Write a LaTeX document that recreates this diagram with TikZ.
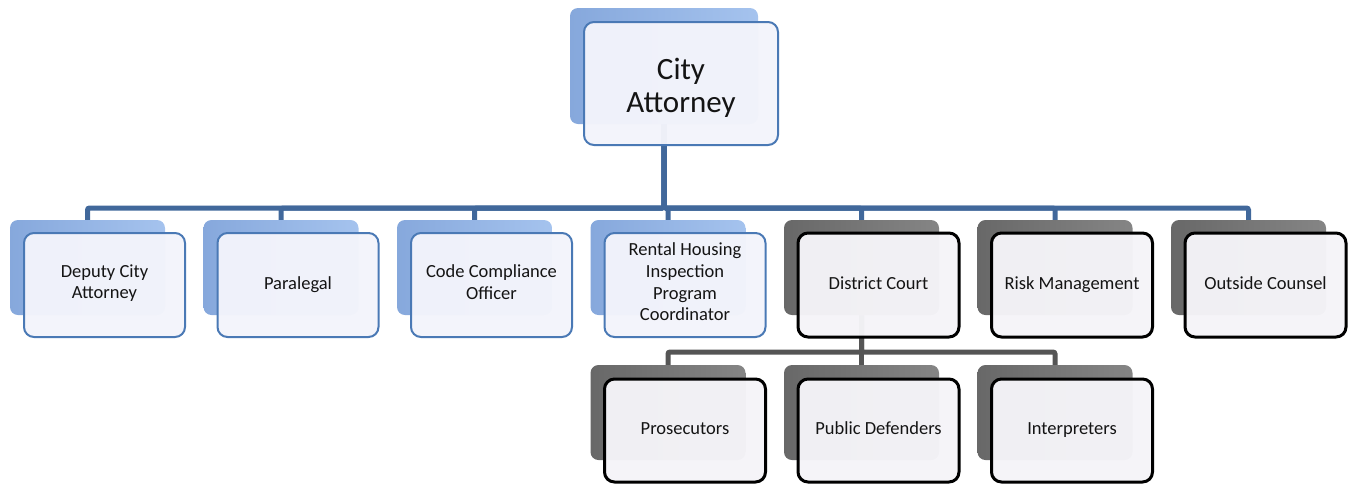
\documentclass[tikz,border=0pt]{standalone}
\usepackage{fontspec}
\setmainfont{Carlito}
\usetikzlibrary{backgrounds}
\definecolor{conblue}{HTML}{41689B}
\definecolor{congray}{HTML}{555555}
\definecolor{bblueL}{HTML}{86A8DC}
\definecolor{bblueR}{HTML}{A5C3EE}
\definecolor{bgrayL}{HTML}{686868}
\definecolor{bgrayR}{HTML}{858585}
\definecolor{bordblue}{HTML}{4A79B5}
\definecolor{frontfill}{HTML}{F3F4FB}
\definecolor{frontgray}{HTML}{F5F4F8}
\definecolor{txt}{HTML}{141414}
\tikzset{
  backbox/.style={rectangle, rounded corners=8pt, inner sep=0pt, minimum width=155pt, minimum height=95pt},
  backblue/.style={backbox, left color=bblueL, right color=bblueR},
  backgray/.style={backbox, left color=bgrayL, right color=bgrayR},
  frontbox/.style={rectangle, rounded corners=10pt, inner sep=2pt, minimum width=161pt, minimum height=104pt,
    fill opacity=0.97, text opacity=1, align=center, text=txt},
  strutted/.style={execute at begin node=\strut, execute at end node=\strut},
  smalltext/.style={font=\fontsize{18.5}{21.7}\selectfont, strutted},
  frontblue/.style={frontbox, draw=bordblue, line width=2pt, fill=frontfill},
  frontblack/.style={frontbox, draw=black, line width=3pt, fill=frontgray},
  bluecon/.style={draw=conblue, line width=5pt, rounded corners=2pt},
  graycon/.style={draw=congray, line width=5pt, rounded corners=2pt}
}
\begin{document}
\begin{tikzpicture}[x=1pt,y=-1pt]
\useasboundingbox (0,0) rectangle (1351,483);
\coordinate (busY) at (0,208);
\coordinate (subY) at (0,352);
% top
\node[backblue, minimum width=188pt, minimum height=116pt] (cityB) at (664,66) {};
\node[frontblue, minimum width=194pt, minimum height=123pt,
  label={[name=cityT, align=center, text=txt, yshift=-4pt, font=\fontsize{31}{33}\selectfont]center:City\\Attorney}] (city) at (681,83.5) {};
% row 2 back boxes
\node[backblue] (depB)  at (87.5,267.5) {};
\node[backblue] (paraB) at (281,267.5) {};
\node[backblue] (codeB) at (474.5,267.5) {};
\node[backblue] (rentB) at (668,267.5) {};
\node[backgray] (distB) at (861.5,267.5) {};
\node[backgray] (riskB) at (1055,267.5) {};
\node[backgray] (outB)  at (1248.5,267.5) {};
% row 2 front boxes
\node[frontblue, smalltext] (dep)  at (104.5,285) {Deputy City\\Attorney};
\node[frontblue, smalltext] (para) at (298,285) {Paralegal};
\node[frontblue, smalltext] (code) at (491.5,285) {Code Compliance\\Officer};
\node[frontblue, smalltext] (rent) at (685,285) {Rental Housing\\Inspection\\Program\\Coordinator};
\node[frontblack, smalltext] (dist) at (878.5,285) {District Court};
\node[frontblack, smalltext] (risk) at (1072,285) {Risk Management};
\node[frontblack, smalltext] (out)  at (1265.5,285) {Outside Counsel};
% row 3
\node[backgray] (prosB) at (668,412.5) {};
\node[backgray] (pubB)  at (861.5,412.5) {};
\node[backgray] (intB)  at (1055,412.5) {};
\node[frontblack, smalltext, minimum height=103pt] (pros) at (685,430.5) {Prosecutors};
\node[frontblack, smalltext, minimum height=103pt] (pub)  at (878.5,430.5) {Public Defenders};
\node[frontblack, smalltext, minimum height=103pt] (int)  at (1072,430.5) {Interpreters};
% connectors
\begin{scope}[on background layer]
\foreach \c in {depB,paraB,codeB,rentB,distB,riskB,outB}
  \draw[bluecon] (cityB.south) -- (cityB.south |- busY) -| (\c.north);
\foreach \c in {prosB,pubB,intB}
  \draw[graycon] (distB.south) -- (distB.south |- subY) -| (\c.north);
\end{scope}
\end{tikzpicture}
\end{document}
